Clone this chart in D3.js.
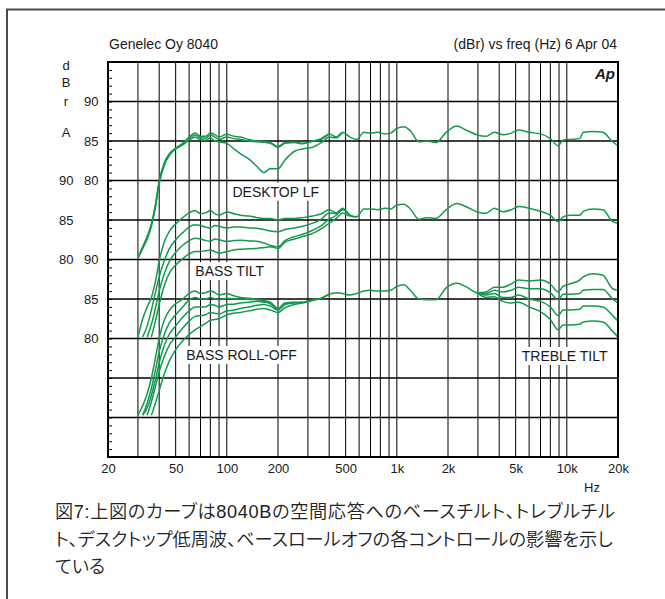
<!DOCTYPE html>
<html>
<head>
<meta charset="utf-8">
<script src="https://cdn.jsdelivr.net/npm/d3@7"></script>
<style>
  body { margin: 0; background: #fff; }
  svg { display: block; }
  text { font-family: "Liberation Sans", Arial, Helvetica, sans-serif; fill: #1a1a1a; }
  .caption { font-family: "Liberation Sans", "Noto Sans CJK JP", sans-serif; font-weight: 350; font-feature-settings: "palt"; fill: #222; }
</style>
</head>
<body>
<div id="chart"></div>
<script>
// frequency grid (Hz) the curves were read at
var freqs = [30,32,34,36,38,40,43,46,50,55,60,65,70,75,80,85,90,
  100,110,120,135,150,165,180,200,220,250,280,320,360,400,440,480,
  530,580,640,700,770,850,920,1000,1100,1200,1350,1500,1700,1950,2250,2550,
  2950,3350,3750,4200,4700,5200,6000,7000,8000,8900,9500,10400,11900,12500,14300,16300,
  18600,20000];

// DESKTOP LF group (dBr, top scale)
var desktopFlat = [70.2,71.5,72.8,74.4,76.8,79.8,82.2,83.4,84.1,
  84.7,85.5,86.0,85.6,85.6,86.0,85.8,85.5,
  85.85,85.6,85.5,85.2,85.0,84.95,84.8,84.3,
  84.8,84.85,84.7,85.0,85.3,85.9,85.5,86.1,
  85.5,85.2,86.1,86.0,86.1,85.9,86.0,86.6,
  86.8,86.3,84.9,85.0,84.8,86.1,86.9,86.4,
  85.8,85.6,86.1,85.8,86.0,86.4,86.1,85.9,
  85.3,84.4,85.1,85.2,85.3,86.1,86.2,86.1,
  84.9,84.4];
var desktopMid = [70.2,71.4,72.6,74.2,76.6,79.6,82.0,83.2,84.0,
  84.6,85.3,85.75,85.4,85.35,85.75,85.5,85.2,
  85.5,85.3,85.2,85.0,84.9,84.85,84.7,84.2,
  84.7,84.8,84.65,84.95,85.25,85.9];
var desktopDip = [70.2,71.6,72.9,74.5,76.9,79.9,82.3,83.4,84.0,
  84.5,85.1,85.5,85.15,85.1,85.4,85.0,84.9,
  84.7,84.0,83.4,82.7,81.8,81.0,81.5,81.5,
  82.6,83.7,84.0,84.2,84.8,85.5,85.4,86.1];

// BASS TILT group (dBr, middle scale)
var tilt0 = [70.2,72.5,74.0,75.2,77.2,79.8,82.3,83.6,84.5,
  85.3,85.9,86.2,85.8,85.9,86.2,85.8,85.6,
  86.0,85.8,85.6,85.5,85.3,85.2,85.2,85.0,
  85.2,85.2,85.3,85.5,85.8,86.3,85.9,86.5,
  85.6,85.4,86.4,86.4,86.3,86.5,86.4,86.9,
  87.0,86.4,85.1,85.3,85.2,86.3,87.1,86.7,
  86.05,85.85,86.5,86.05,86.3,86.7,86.5,86.1,
  85.6,84.8,85.4,85.6,85.6,86.1,86.4,86.3,
  84.8,84.6];
var tilt2 = [null,70.2,71.6,73.6,75.8,77.8,79.9,81.4,82.5,
  83.4,84.1,84.4,84.3,84.1,84.0,84.3,84.2,
  84.0,84.1,84.1,84.0,83.95,83.8,83.6,83.5,
  83.8,84.0,84.2,84.6,85.1,85.9,85.8,86.5];
var tilt4 = [null,null,70.2,71.8,73.8,76.0,78.3,79.8,80.9,
  81.8,82.4,82.7,82.6,82.4,82.3,82.6,82.5,
  82.3,82.4,82.45,82.35,82.3,82.1,81.8,81.6,
  82.4,82.9,83.2,83.7,84.3,85.1,85.6,86.3,
  85.6];
var tilt6 = [null,null,null,70.2,72.2,74.3,76.8,78.3,79.3,
  80.1,80.7,81.0,81.0,81.1,81.2,81.0,80.8,
  81.0,81.2,81.3,81.35,81.4,81.5,81.6,81.4,
  82.2,82.6,82.9,83.3,83.9,84.6,85.2,85.9,
  85.5,85.4];

// BASS ROLL-OFF / TREBLE TILT group (dBr, bottom scale)
var roll0 = [70.3,71.5,73.0,75.0,77.5,80.0,82.4,83.6,84.4,
  85.0,85.7,86.0,85.7,85.8,86.0,85.8,85.5,
  85.7,85.4,85.2,85.1,84.96,84.8,84.6,83.8,
  84.5,84.6,84.6,84.9,85.1,85.6,85.8,85.7,
  85.5,85.7,86.0,86.1,86.0,86.0,86.1,86.6,
  86.8,86.1,85.0,84.9,84.9,86.4,87.0,86.56,
  85.8,85.7,86.1,85.9,86.1,86.5,86.3,86.3,
  85.8,84.9,85.6,85.6,85.7,86.1,86.2,86.2,
  85.0,84.5];
var roll2 = [null,70.3,71.8,73.7,76.0,78.3,80.6,82.0,83.0,
  84.0,84.9,85.2,85.0,85.0,85.2,85.0,84.9,
  85.1,85.0,85.0,84.95,84.9,84.7,84.5,83.8,
  84.5];
var roll4 = [null,70.3,71.2,72.8,74.8,76.9,79.2,80.6,81.6,
  82.7,83.5,84.0,84.0,84.0,84.3,84.2,84.0,
  84.3,84.35,84.5,84.6,84.7,84.6,84.4,83.7,
  84.4,84.6];
var roll6 = [null,null,70.3,72.0,73.9,75.8,77.8,79.2,80.2,
  81.3,82.2,82.8,82.9,83.0,83.3,83.2,83.1,
  83.5,83.6,83.8,84.0,84.2,84.3,84.1,83.6,
  84.3,84.5,84.6];
var roll8 = [null,null,null,70.3,71.8,73.4,75.6,77.2,78.6,
  79.7,80.5,81.1,81.5,81.9,82.3,82.4,82.5,
  83.0,83.2,83.3,83.5,83.7,83.8,83.6,83.3,
  83.9,84.3,84.5,84.8,85.1,85.6];

var trebleFreqs = [2950,3350,3750,4200,4700,5200,6000,7000,8000,8900,9500,10400,11900,12500,14300,16300,18600,20000];
var trebleUp2 = [85.8,85.9,86.5,86.5,86.9,87.4,87.3,87.4,86.9,85.9,86.6,86.9,87.4,87.8,88.2,88.0,86.3,86.1];
var trebleDown2 = [85.8,85.5,85.7,85.2,85.2,85.5,85.0,84.7,84.0,82.9,83.6,83.6,83.7,84.1,84.1,84.0,82.9,82.2];
var trebleDown4 = [85.8,85.2,85.3,84.7,84.5,84.6,84.0,83.4,82.4,81.1,81.7,81.7,81.8,82.1,82.2,82.1,80.9,80.2];

// axes
var gridFreqs = [30,40,50,60,70,80,90,100,200,300,400,500,600,700,800,900,
  1000,2000,3000,4000,5000,6000,7000,8000,9000,10000];
var xTicks = [20,50,100,200,500,1000,2000,5000,10000,20000];
var xTickLabels = ["20","50","100","200","500","1k","2k","5k","10k","20k"];
var yTickLabels = ["90","85","80"];
var unitLetters = ["d","B","r","A"];
var curveLabels = ["DESKTOP LF","BASS TILT","BASS ROLL-OFF","TREBLE TILT"];
var captionLines = [
  "図7:上図のカーブは8040Bの空間応答へのベースチルト、トレブルチル",
  "ト、デスクトップ低周波、ベースロールオフの各コントロールの影響を示し",
  "ている"
];

var svgWidth = 665, svgHeight = 599;
var plot = {left: 108, top: 62, right: 618, bottom: 457};
var green = "#139a4e";

var svg = d3.select("#chart").append("svg")
  .attr("width", svgWidth)
  .attr("height", svgHeight);

// outer frame (runs off the page on right/bottom)
svg.append("rect")
  .attr("x", 7).attr("y", 9.5)
  .attr("width", 720).attr("height", 720)
  .attr("fill", "none").attr("stroke", "#4a4a4a").attr("stroke-width", 2);

var x = d3.scaleLog().domain([20, 20000]).range([plot.left, plot.right]);
var y = d3.scaleLinear().domain([45, 95]).range([plot.bottom, plot.top]);

// vertical grid
svg.append("g").selectAll("line")
  .data(gridFreqs).enter().append("line")
  .attr("x1", d => x(d)).attr("x2", d => x(d))
  .attr("y1", plot.top).attr("y2", plot.bottom)
  .attr("stroke", "#000").attr("stroke-width", 1);

// labels with white boxes that cut the grid
var labelPos = [
  {f: 194, v: 77.95}, {f: 104, v: 67.9}, {f: 122, v: 57.28}, {f: 9710, v: 57.15}
];
var labelG = svg.append("g");
curveLabels.forEach(function(t, i) {
  var g = labelG.append("g");
  var txt = g.append("text")
    .attr("x", x(labelPos[i].f)).attr("y", y(labelPos[i].v))
    .attr("text-anchor", "middle")
    .attr("font-size", 14)
    .text(t);
  var bb = txt.node().getBBox();
  g.insert("rect", "text")
    .attr("x", bb.x - 4).attr("y", bb.y - 1)
    .attr("width", bb.width + 8).attr("height", bb.height + 2)
    .attr("fill", "#fff");
});

// horizontal grid
svg.append("g").selectAll("line")
  .data(d3.range(50, 95, 5)).enter().append("line")
  .attr("x1", plot.left).attr("x2", plot.right)
  .attr("y1", d => y(d)).attr("y2", d => y(d))
  .attr("stroke", "#000").attr("stroke-width", 1.5);

// minor dB ticks on left edge
svg.append("g")
  .attr("transform", `translate(${plot.left},0)`)
  .call(d3.axisLeft(y).tickValues(d3.range(46, 95)).tickSize(-4).tickFormat(""))
  .call(g => g.select(".domain").remove())
  .selectAll("line").attr("stroke", "#000");

// curves
var groups = [
  {offset: 0, curves: [
    {f: freqs, v: desktopFlat}, {f: freqs, v: desktopMid}, {f: freqs, v: desktopDip}]},
  {offset: -10, curves: [
    {f: freqs, v: tilt0}, {f: freqs, v: tilt2}, {f: freqs, v: tilt4}, {f: freqs, v: tilt6}]},
  {offset: -20, curves: [
    {f: freqs, v: roll0}, {f: freqs, v: roll2}, {f: freqs, v: roll4}, {f: freqs, v: roll6},
    {f: freqs, v: roll8}, {f: trebleFreqs, v: trebleUp2}, {f: trebleFreqs, v: trebleDown2},
    {f: trebleFreqs, v: trebleDown4}]}
];

var curveG = svg.append("g");
groups.forEach(function(grp) {
  var line = d3.line()
    .defined(d => d[1] != null)
    .x(d => x(d[0]))
    .y(d => y(d[1] + grp.offset))
    .curve(d3.curveMonotoneX);
  grp.curves.forEach(function(c) {
    var pts = c.v.map((v, i) => [c.f[i], v]);
    curveG.append("path")
      .attr("d", line(pts))
      .attr("fill", "none")
      .attr("stroke", green)
      .attr("stroke-width", 1.5)
      .attr("stroke-linejoin", "round");
  });
});

// plot border
svg.append("rect")
  .attr("x", plot.left).attr("y", plot.top)
  .attr("width", plot.right - plot.left).attr("height", plot.bottom - plot.top)
  .attr("fill", "none").attr("stroke", "#000").attr("stroke-width", 2);

// x tick labels
svg.append("g")
  .attr("transform", `translate(0,${plot.bottom})`)
  .call(d3.axisBottom(x).tickValues(xTicks).tickFormat((d, i) => xTickLabels[i]).tickSize(0).tickPadding(7))
  .call(g => g.select(".domain").remove())
  .selectAll("text")
  .attr("font-size", 13)
  .attr("font-family", "Liberation Sans, Arial, sans-serif")
  .attr("fill", "#1a1a1a");

// y labels: inner column for top and bottom groups, outer column for the middle group
var yLab = svg.append("g").attr("font-size", 13);
[{offset: 0, xEnd: 98.5}, {offset: -10, xEnd: 73.5}, {offset: -20, xEnd: 98.5}].forEach(function(col) {
  yTickLabels.forEach(function(t) {
    yLab.append("text")
      .attr("x", col.xEnd)
      .attr("y", y(+t + col.offset))
      .attr("dy", "0.36em")
      .attr("text-anchor", "end")
      .text(t);
  });
});
var letterY = [70, 86.5, 105.5, 136.5];
unitLetters.forEach(function(t, i) {
  yLab.append("text")
    .attr("x", 66).attr("y", letterY[i])
    .attr("text-anchor", "middle")
    .text(t);
});

// header texts
svg.append("text").attr("x", 109).attr("y", 49).attr("font-size", 14).text("Genelec Oy 8040");
svg.append("text").attr("x", 617).attr("y", 49).attr("font-size", 14)
  .attr("text-anchor", "end").text("(dBr) vs freq (Hz) 6 Apr 04");
svg.append("text").attr("x", 615).attr("y", 79).attr("font-size", 15)
  .attr("text-anchor", "end").attr("font-weight", "bold").attr("font-style", "italic")
  .text("Ap");
svg.append("text").attr("x", 592).attr("y", 492).attr("font-size", 13)
  .attr("text-anchor", "middle").text("Hz");

// caption: size chosen so the second line spans the same width as the original
var capG = svg.append("g");
var capText = captionLines.map(function(t, i) {
  return capG.append("text")
    .attr("class", "caption")
    .attr("x", 55)
    .attr("y", 518 + i * 27.5)
    .attr("font-size", 18)
    .text(t);
});
var natural = capText[1].node().getComputedTextLength();
var capSize = Math.max(16, Math.min(20, 18 * 558 / natural));
capText.forEach(t => t.attr("font-size", capSize));
// first line is a little wider in the original: spread it by spacing only
capText[0].attr("textLength", 560).attr("lengthAdjust", "spacing");
</script>
</body>
</html>
